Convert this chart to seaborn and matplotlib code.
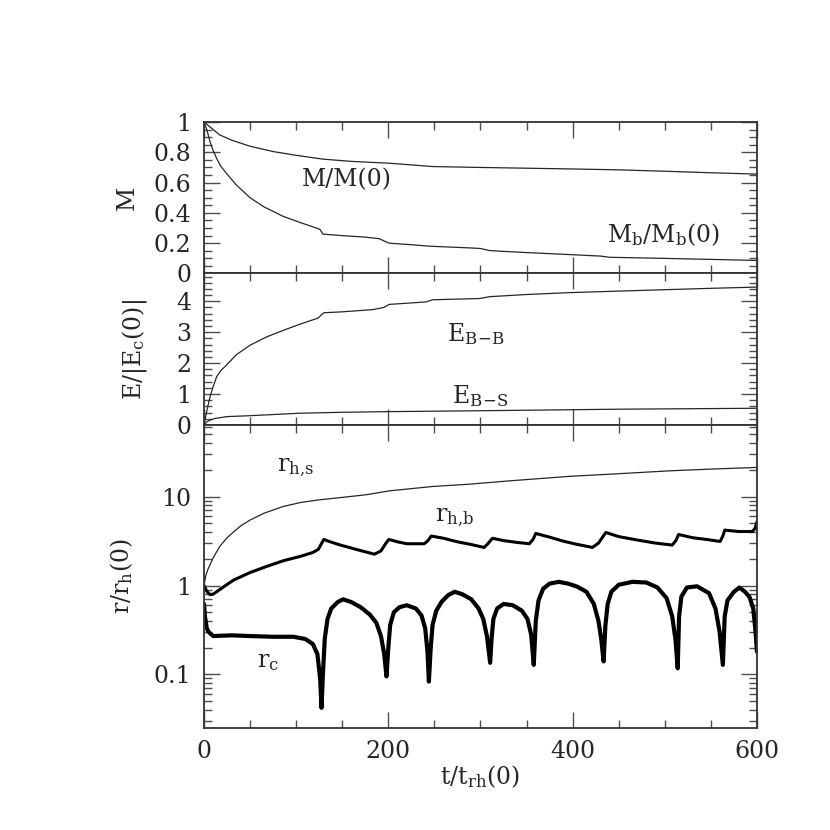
import numpy as np
import pandas as pd
import matplotlib
matplotlib.use("Agg")
import matplotlib.pyplot as plt
import matplotlib.ticker as mticker
import seaborn as sns

# ---------------- data ----------------
t_M = [0, 5, 10, 17, 30, 50, 75, 100, 129, 160, 201, 248, 300, 350, 400, 451, 500, 550, 600]
M_tot = [1.0, 0.975, 0.95, 0.915, 0.88, 0.84, 0.805, 0.78, 0.755, 0.74, 0.728, 0.706, 0.70,
         0.695, 0.690, 0.684, 0.675, 0.665, 0.656]

t_Mb = [0, 3, 6.5, 10, 13.7, 18, 24.5, 35, 50, 65, 86, 105, 122, 126, 129, 150, 175, 190, 197,
        201, 225, 245, 288, 300, 310, 350, 396, 430, 440, 505, 550, 600]
M_b = [1.0, 0.95, 0.87, 0.81, 0.76, 0.71, 0.66, 0.585, 0.50, 0.44, 0.377, 0.335, 0.30, 0.29,
       0.26, 0.25, 0.24, 0.23, 0.21, 0.20, 0.19, 0.18, 0.169, 0.165, 0.151, 0.138, 0.125,
       0.115, 0.107, 0.099, 0.093, 0.086]

t_EBB = [0, 3, 6.5, 10, 13.7, 18, 24.5, 35, 50, 68, 86, 105, 124, 127, 130, 150, 183, 195, 201,
         241, 248, 299, 310, 350, 396, 450, 505, 550, 600]
E_BB = [0.0, 0.45, 0.91, 1.25, 1.56, 1.75, 1.94, 2.27, 2.58, 2.85, 3.06, 3.27, 3.46, 3.55, 3.63,
        3.66, 3.73, 3.80, 3.90, 3.98, 4.05, 4.09, 4.15, 4.22, 4.28, 4.33, 4.38, 4.42, 4.46]

t_EBS = [0, 3, 6.5, 12, 24.5, 50, 104, 150, 197, 299, 360, 450, 600]
E_BS = [0.0, 0.10, 0.16, 0.21, 0.27, 0.30, 0.38, 0.41, 0.43, 0.46, 0.48, 0.51, 0.54]

t_rhs = [0, 2, 4, 6.5, 10, 17, 25, 32, 40, 50, 65, 86, 105, 125, 150, 176, 201, 225, 248, 288,
         330, 396, 450, 505, 550, 600]
r_hs = [1.0, 1.3, 1.5, 1.71, 2.05, 2.75, 3.45, 4.0, 4.7, 5.45, 6.5, 7.75, 8.6, 9.2, 9.8, 10.5,
        11.6, 12.3, 13.0, 13.8, 15.0, 16.9, 18.1, 19.5, 20.4, 21.3]

t_rhb = [0, 3, 6.5, 10, 17, 32, 50, 68, 86, 104, 118, 124, 127, 130, 135, 147, 165, 185, 192,
         197, 200.6, 210, 220, 239, 243, 246.5, 260, 275, 288, 304, 308, 313, 325, 340, 353,
         357, 360, 375, 390, 405, 421.5, 428, 436, 450, 470, 490, 508, 512, 515, 530, 545,
         560, 563, 565, 580, 595, 598, 600]
r_hb = [1.0, 0.86, 0.79, 0.80, 0.90, 1.15, 1.40, 1.64, 1.90, 2.12, 2.35, 2.55, 2.9, 3.3, 3.15,
        2.87, 2.55, 2.25, 2.45, 2.95, 3.30, 3.1, 2.95, 2.95, 3.2, 3.6, 3.4, 3.1, 2.92, 2.68,
        2.95, 3.4, 3.2, 3.05, 2.95, 3.3, 3.85, 3.5, 3.15, 2.9, 2.68, 3.0, 3.95, 3.55, 3.25,
        3.0, 2.85, 3.2, 3.75, 3.45, 3.3, 3.13, 3.6, 4.2, 4.05, 4.05, 4.4, 5.2]

t_rc = [0, 1, 3, 5, 10, 30, 50, 75, 97, 110, 118, 123, 126, 127.5, 129, 131, 134, 138, 145, 151,
        160, 170, 180, 187, 192, 195.5, 198, 200, 202, 206, 212, 220, 230, 236, 240, 242.5, 244,
        246, 248, 252, 258, 265, 272, 280, 290, 298, 303, 307, 310.5, 312, 314, 318, 325, 335,
        345, 351, 355, 357.8, 360, 363, 368, 375, 385, 395, 405, 415, 423, 428, 431, 433.6,
        435.5, 438, 442, 450, 465, 480, 492, 502, 508, 511.5, 514, 515.5, 518, 524, 535, 548,
        555, 559.5, 563, 565, 568, 575, 581, 587, 592, 596, 598.5, 600]
r_c = [0.62, 0.45, 0.33, 0.30, 0.27, 0.275, 0.27, 0.265, 0.265, 0.25, 0.22, 0.17, 0.09, 0.042,
       0.10, 0.25, 0.42, 0.55, 0.65, 0.70, 0.65, 0.57, 0.47, 0.38, 0.27, 0.17, 0.095, 0.20,
       0.36, 0.50, 0.57, 0.60, 0.55, 0.46, 0.33, 0.18, 0.083, 0.20, 0.36, 0.52, 0.66, 0.78,
       0.85, 0.80, 0.70, 0.55, 0.42, 0.27, 0.135, 0.25, 0.42, 0.55, 0.62, 0.60, 0.52, 0.42,
       0.28, 0.128, 0.40, 0.68, 0.92, 1.05, 1.10, 1.05, 0.97, 0.85, 0.62, 0.40, 0.25, 0.14,
       0.35, 0.62, 0.85, 1.02, 1.10, 1.08, 0.95, 0.72, 0.45, 0.25, 0.117, 0.45, 0.75, 0.95,
       0.98, 0.82, 0.55, 0.30, 0.128, 0.45, 0.68, 0.85, 0.95, 0.85, 0.74, 0.55, 0.30, 0.18]

x_ticks = [0, 200, 400, 600]
M_ticks = [0, 0.2, 0.4, 0.6, 0.8, 1]
E_ticks = [0, 1, 2, 3, 4]
r_ticks = [0.1, 1, 10]

# ---------------- style ----------------
sns.set_theme(style="ticks")
plt.rcParams["font.family"] = ["DejaVu Serif", "DejaVu Sans"]
plt.rcParams["mathtext.fontset"] = "dejavuserif"
FS = 17

fig = plt.figure(figsize=(8.3, 8.3), dpi=100)
gs = fig.add_gridspec(3, 1, height_ratios=[1, 1, 2], hspace=0,
                      left=0.2458, right=0.912, top=0.853, bottom=0.123)
ax1 = fig.add_subplot(gs[0])
ax2 = fig.add_subplot(gs[1], sharex=ax1)
ax3 = fig.add_subplot(gs[2], sharex=ax1)

thin = "0.15"
sns.lineplot(x=t_M, y=M_tot, ax=ax1, color=thin, lw=0.9)
sns.lineplot(x=t_Mb, y=M_b, ax=ax1, color=thin, lw=0.9)
sns.lineplot(x=t_EBB, y=E_BB, ax=ax2, color=thin, lw=0.9)
sns.lineplot(x=t_EBS, y=E_BS, ax=ax2, color=thin, lw=0.9)
sns.lineplot(x=t_rhs, y=r_hs, ax=ax3, color=thin, lw=0.9)
sns.lineplot(x=t_rhb, y=r_hb, ax=ax3, color="black", lw=2.2)
sns.lineplot(x=t_rc, y=r_c, ax=ax3, color="black", lw=3.0)

ax1.set_xlim(0, 600)
ax1.set_ylim(0, 1.0)
ax2.set_ylim(0, 4.9)
ax3.set_yscale("log")
ax3.set_ylim(0.025, 64)

for ax in (ax1, ax2, ax3):
    ax.tick_params(which="both", direction="in", top=True, right=True,
                   labelsize=FS, color="0.3", pad=9)
    ax.tick_params(which="major", length=11.5, width=1.0)
    ax.tick_params(which="minor", length=5.5, width=1.0)
    for s in ax.spines.values():
        s.set_linewidth(1.3)
        s.set_color("0.2")
    ax.xaxis.set_major_locator(mticker.FixedLocator(x_ticks))
    ax.xaxis.set_minor_locator(mticker.MultipleLocator(50))

ax1.yaxis.set_major_locator(mticker.FixedLocator(M_ticks))
ax1.yaxis.set_major_formatter(mticker.FuncFormatter(lambda v, p: f"{v:g}"))
ax1.yaxis.set_minor_locator(mticker.MultipleLocator(0.05))
ax2.yaxis.set_major_locator(mticker.FixedLocator(E_ticks))
ax2.yaxis.set_minor_locator(mticker.MultipleLocator(0.2))
ax3.yaxis.set_major_locator(mticker.FixedLocator(r_ticks))
ax3.yaxis.set_major_formatter(mticker.FuncFormatter(lambda v, p: f"{v:g}"))
ax3.yaxis.set_minor_locator(mticker.LogLocator(base=10, subs=np.arange(2, 10)))
ax3.yaxis.set_minor_formatter(mticker.NullFormatter())

ax1.tick_params(axis="x", labelbottom=False)
ax2.tick_params(axis="x", labelbottom=False)
ax3.xaxis.set_major_formatter(mticker.FuncFormatter(lambda v, p: f"{v:g}"))

ax1.set_ylabel("M", fontsize=FS)
ax2.set_ylabel(r"E/|E$_\mathrm{c}$(0)|", fontsize=FS)
ax3.set_ylabel(r"r/r$_\mathrm{h}$(0)", fontsize=FS)
ax3.set_xlabel(r"t/t$_\mathrm{rh}$(0)", fontsize=FS)
ax1.yaxis.set_label_coords(-0.118, 0.5)
ax2.yaxis.set_label_coords(-0.10, 0.5)
ax3.yaxis.set_label_coords(-0.125, 0.5)
ax3.xaxis.set_label_coords(0.5, -0.115)

# curve annotations
ax1.text(155, 0.62, "M/M(0)", fontsize=FS, ha="center", va="center")
ax1.text(499, 0.257, r"M$_\mathrm{b}$/M$_\mathrm{b}$(0)", fontsize=FS, ha="center", va="center")
ax2.text(295, 2.95, r"E$_\mathrm{B\!-\!B}$", fontsize=FS, ha="center", va="center")
ax2.text(300, 0.95, r"E$_\mathrm{B\!-\!S}$", fontsize=FS, ha="center", va="center")
ax3.text(100, 21, r"r$_\mathrm{h,\!s}$", fontsize=FS, ha="center", va="center")
ax3.text(272, 5.8, r"r$_\mathrm{h,\!b}$", fontsize=FS, ha="center", va="center")
ax3.text(69, 0.138, r"r$_\mathrm{c}$", fontsize=FS, ha="center", va="center")

fig.savefig("out.png", dpi=100)
